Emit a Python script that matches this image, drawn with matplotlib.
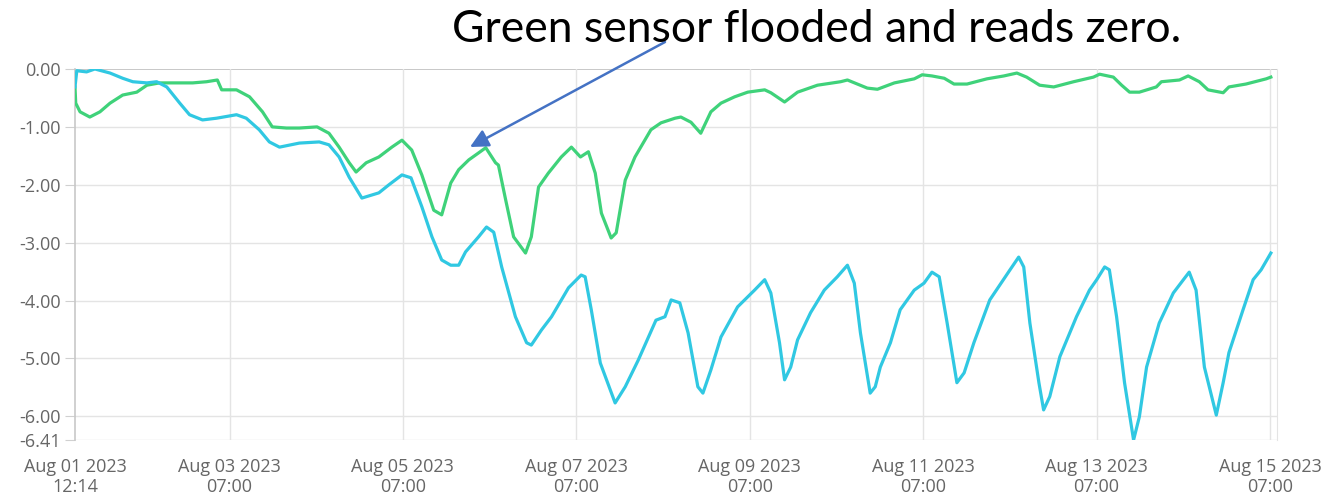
import matplotlib
matplotlib.use("Agg")
import matplotlib.pyplot as plt
import pandas as pd

# ---- data (hours since Aug 01 2023 12:14, level) ----
start_time = "2023-08-01 12:14"

cyan_hours = [0, 0.5, 3.2, 5.5, 9.7, 13.2, 16.0, 19.9, 22.6, 25.4, 29.0, 31.7, 35.3, 39.2, 44.7,
              47.4, 51.0, 53.8, 56.6, 62.1, 67.6, 70.3, 73.1, 75.9, 79.4, 84.1, 86.9, 90.5, 93.0,
              96.0, 98.8, 101.5, 104.0, 106.2, 108.1, 111.7, 113.9, 115.9, 118.1, 121.9, 125.0,
              126.3, 129.1, 131.9, 136.6, 140.1, 141.2, 142.9, 145.4, 149.5, 152.3, 155.9, 160.8,
              163.3, 165.0, 167.4, 169.7, 172.4, 173.8, 176.0, 178.8, 183.4, 188.1, 190.9, 192.6,
              195.0, 196.4, 198.1, 200.0, 203.6, 207.4, 211.0, 213.8, 215.7, 217.4, 220.1, 221.5,
              222.9, 225.7, 228.4, 232.3, 235.0, 237.2, 239.2, 241.4, 244.1, 246.1, 248.8, 253.2,
              258.8, 261.2, 262.6, 264.3, 266.8, 268.1, 269.8, 272.6, 277.2, 280.8, 282.8, 285.0,
              286.3, 288.3, 290.5, 293.0, 294.6, 296.6, 300.1, 304.0, 306.8, 308.4, 310.3, 312.6,
              315.9, 317.8, 319.4, 323.3, 326.1, 328.3, 331.0]
cyan_values = [-0.31, -0.03, -0.05, 0.0, -0.07, -0.16, -0.22, -0.24, -0.22, -0.31, -0.59, -0.79,
               -0.88, -0.85, -0.79, -0.85, -1.05, -1.26, -1.35, -1.28, -1.26, -1.31, -1.52, -1.87,
               -2.23, -2.14, -2.00, -1.83, -1.88, -2.38, -2.90, -3.30, -3.39, -3.39, -3.16, -2.90,
               -2.73, -2.82, -3.42, -4.28, -4.73, -4.77, -4.51, -4.28, -3.78, -3.56, -3.59, -4.16,
               -5.08, -5.77, -5.49, -5.03, -4.34, -4.28, -3.99, -4.04, -4.56, -5.49, -5.60, -5.20,
               -4.63, -4.11, -3.82, -3.64, -3.87, -4.73, -5.37, -5.15, -4.68, -4.21, -3.82, -3.59,
               -3.39, -3.70, -4.56, -5.60, -5.49, -5.15, -4.73, -4.16, -3.82, -3.70, -3.51, -3.59,
               -4.39, -5.42, -5.25, -4.73, -3.99, -3.47, -3.25, -3.42, -4.39, -5.42, -5.89, -5.66,
               -4.97, -4.28, -3.82, -3.64, -3.42, -3.47, -4.28, -5.42, -6.41, -6.01, -5.15, -4.39,
               -3.87, -3.64, -3.51, -3.82, -5.15, -5.98, -5.42, -4.90, -4.16, -3.64, -3.47, -3.18]

green_hours = [0, 0.2, 1.4, 4.1, 6.9, 9.7, 13.2, 17.1, 19.9, 23.4, 27.0, 32.6, 36.4, 39.4, 40.6,
               44.7, 48.3, 51.9, 54.6, 58.5, 62.1, 67.0, 70.3, 73.1, 75.9, 77.8, 80.6, 84.1, 87.7,
               90.5, 93.2, 96.0, 99.3, 101.5, 104.0, 106.2, 109.0, 111.7, 113.7, 116.4, 117.2,
               119.2, 121.4, 124.7, 126.3, 128.3, 131.0, 134.6, 137.4, 139.9, 142.1, 144.0, 145.7,
               148.4, 149.8, 152.3, 155.0, 159.4, 162.2, 166.1, 167.7, 170.5, 173.2, 176.0, 178.8,
               182.6, 186.2, 190.9, 192.6, 196.4, 200.0, 205.5, 211.9, 213.8, 219.3, 222.1, 226.8,
               232.3, 234.5, 237.2, 240.6, 243.3, 246.9, 252.4, 257.1, 260.7, 263.4, 267.0, 270.9,
               276.4, 281.9, 283.6, 287.4, 289.7, 291.9, 294.6, 299.3, 300.7, 305.7, 308.1, 311.2,
               313.6, 317.8, 319.4, 324.1, 329.7, 331.0]
green_values = [-0.31, -0.59, -0.74, -0.83, -0.74, -0.59, -0.45, -0.40, -0.28, -0.24, -0.24, -0.24,
                -0.22, -0.19, -0.36, -0.36, -0.48, -0.74, -1.00, -1.02, -1.02, -1.00, -1.11, -1.35,
                -1.62, -1.78, -1.62, -1.52, -1.35, -1.23, -1.40, -1.83, -2.44, -2.52, -1.97, -1.74,
                -1.57, -1.45, -1.36, -1.62, -1.66, -2.26, -2.90, -3.18, -2.90, -2.04, -1.80, -1.52,
                -1.35, -1.52, -1.43, -1.80, -2.49, -2.92, -2.83, -1.92, -1.52, -1.05, -0.93, -0.85,
                -0.83, -0.92, -1.11, -0.74, -0.59, -0.48, -0.40, -0.36, -0.41, -0.57, -0.40, -0.28,
                -0.22, -0.19, -0.33, -0.35, -0.24, -0.17, -0.10, -0.12, -0.16, -0.26, -0.26, -0.17,
                -0.12, -0.07, -0.14, -0.28, -0.31, -0.22, -0.14, -0.09, -0.14, -0.28, -0.40, -0.40,
                -0.31, -0.22, -0.19, -0.12, -0.22, -0.36, -0.41, -0.31, -0.26, -0.17, -0.14]

y_ticks = [0.0, -1.0, -2.0, -3.0, -4.0, -5.0, -6.0, -6.41]
x_tick_times = ["2023-08-01 12:14", "2023-08-03 07:00", "2023-08-05 07:00", "2023-08-07 07:00",
                "2023-08-09 07:00", "2023-08-11 07:00", "2023-08-13 07:00", "2023-08-15 07:00"]
x_tick_labels = ["Aug 01 2023\n12:14", "Aug 03 2023\n07:00", "Aug 05 2023\n07:00",
                 "Aug 07 2023\n07:00", "Aug 09 2023\n07:00", "Aug 11 2023\n07:00",
                 "Aug 13 2023\n07:00", "Aug 15 2023\n07:00"]
annotation_text = "Green sensor flooded and reads zero."

# ---- build ----
t0 = pd.Timestamp(start_time)
cyan_t = t0 + pd.to_timedelta(cyan_hours, unit="h")
green_t = t0 + pd.to_timedelta(green_hours, unit="h")
xt = pd.to_datetime(x_tick_times)

W, H = 1337, 498
fig = plt.figure(figsize=(W / 100, H / 100), dpi=100)
ax = fig.add_axes([75 / W, 1 - 440 / H, (1277 - 75) / W, (440 - 69) / H])

grid_c = "#e4e4e4"
for y in y_ticks:
    ax.axhline(y, color=("#c4c4c4" if y == 0 else grid_c), lw=1.3 if y == 0 else 1.0, zorder=1)
for t in xt[1:]:
    ax.axvline(t, color=grid_c, lw=1.0, zorder=1)

ax.plot(green_t, green_values, color="#3fd27a", lw=2.3, zorder=3, solid_joinstyle="round")
ax.plot(cyan_t, cyan_values, color="#30c8e2", lw=2.3, zorder=4, solid_joinstyle="round")

ax.set_xlim(t0, t0 + pd.Timedelta(hours=332.7))
ax.set_ylim(-6.41, 0.0)

for s in ["top", "bottom"]:
    ax.spines[s].set_visible(False)
ax.spines["right"].set_color(grid_c)
ax.spines["left"].set_color("#c8c8c8")
ax.spines["left"].set_linewidth(1.2)

font = ["Open Sans", "DejaVu Sans"]
ax.set_yticks(y_ticks)
ax.set_yticklabels([f"{v:.2f}" for v in y_ticks], family=font, fontsize=13, color="#666666")
ax.tick_params(axis="y", length=7, color="#d0d0d0", pad=3)
ax.set_xticks(xt)
ax.set_xticklabels(x_tick_labels, family=font, fontsize=13, color="#666666", linespacing=1.15)
ax.tick_params(axis="x", length=0, pad=13)

fig.text(817 / W, 1 - 30 / H, annotation_text, family=["Lato", "DejaVu Sans"], fontsize=32,
         color="black", ha="center", va="center")
ax.annotate("", xy=(470 / W, 1 - 147 / H), xytext=(665 / W, 1 - 42 / H),
            xycoords="figure fraction", textcoords="figure fraction",
            arrowprops=dict(arrowstyle="-|>,head_length=1.1,head_width=0.55", color="#4472C4",
                            lw=1.8, shrinkA=0, shrinkB=0), annotation_clip=False)

fig.savefig("out.png", dpi=100)
